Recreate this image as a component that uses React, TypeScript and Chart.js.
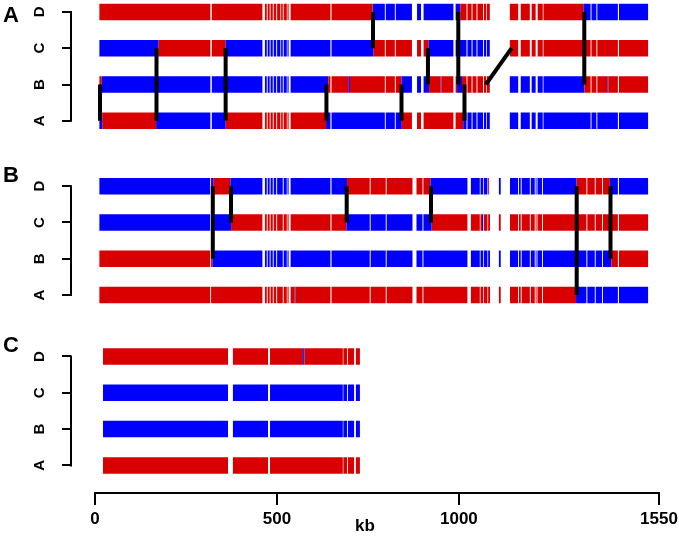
import React, { useEffect, useRef } from "react";
import { Chart, registerables } from "chart.js";
Chart.register(...registerables);

// ---------- data (kb) ----------
const X_TICKS = [0, 500, 1000, 1550];
const TRACKS = ["D", "C", "B", "A"];
const PANELS = ["A", "B", "C"];
// y row of track D for each panel (tracks D,C,B,A follow at +1 each)
const PANEL_ROW = [0, 4.8, 9.49];

// Panel A: breakpoints and colour of each run (R = red, B = blue, P = purple)
const A_D_BREAKS = [12, 763, 1004, 1342, 1520];
const A_D_COLORS = "RBRB";
const A_C_BREAKS = [12, 174, 359, 765, 916.5, 1112, 1520];
const A_C_COLORS = "BRBRBR";
const A_B_BREAKS = [12, 18.5, 641, 696, 700.5, 842, 918, 949.5, 952, 995, 1008.5, 1112, 1345, 1408, 1411, 1520];
const A_B_COLORS = "RBRBRBRBRBRBRBR";
const A_A_BREAKS = [12, 20, 168, 359, 635, 843, 1012, 1520];
const A_A_COLORS = "BRBRBRB";
const A_GAPS = [
  [317, 321], [460, 467], [472, 474.5], [480, 482.5], [488.5, 491], [498, 500.5], [509.5, 511.5],
  [516, 518.5], [527, 529], [532, 537.5], [647, 650], [796.5, 799], [824, 826.5], [871, 885],
  [896, 903], [985, 991], [1021, 1023.5], [1035, 1037.5], [1048.5, 1051], [1066.5, 1069],
  [1075, 1077], [1085, 1140], [1163, 1170], [1195, 1200], [1211, 1216.5], [1230.5, 1232.5],
  [1362, 1364.5], [1378, 1380.5], [1437, 1440],
];
// crossovers: [kb on upper track, upper track, kb on lower track, lower track]
const A_CROSS: [number, string, number, string][] = [
  [13.7, "B", 13.7, "A"], [169, "C", 169, "A"], [359, "C", 359, "A"], [636, "B", 636, "A"],
  [764, "D", 764, "C"], [842.3, "B", 842.3, "A"], [915, "C", 915, "B"], [998.4, "D", 998.4, "B"],
  [1015.4, "B", 1015.4, "A"], [1145, "C", 1074, "B"], [1344.7, "D", 1344.7, "B"],
];

// Panel B
const B_D_BREAKS = [12, 325, 372, 692.5, 922, 1080.5, 1083, 1323, 1415, 1520];
const B_D_COLORS = "BRBRBRBRB";
const B_C_BREAKS = [12, 374, 691, 925, 1063.5, 1066.5, 1520];
const B_C_COLORS = "BRBRBR";
const B_B_BREAKS = [12, 322.5, 1419.5, 1520];
const B_B_COLORS = "RBR";
const B_A_BREAKS = [12, 548.5, 551, 1322, 1520];
const B_A_COLORS = "RBRB";
const B_GAPS = [
  [316.5, 319], [460, 467], [472, 474.5], [480, 482.5], [488.5, 491], [498, 500.5], [516, 518.5],
  [527, 529], [532, 537.5], [647, 650], [755, 757.5], [799, 801.5], [872.5, 883.5], [900, 902.5],
  [1023.5, 1033], [1057.5, 1059.5], [1066.5, 1068.5], [1078.5, 1080.5], [1085.5, 1110],
  [1115, 1140.5], [1162.5, 1165], [1170, 1172.5], [1195, 1197.5], [1208.5, 1211], [1213.5, 1216],
  [1228.5, 1231], [1350.5, 1353], [1373.5, 1376], [1393.5, 1396], [1437, 1440],
];
const B_CROSS: [number, string, number, string][] = [
  [323.7, "D", 323.7, "B"], [373.8, "D", 373.8, "C"], [691.7, "D", 691.7, "C"],
  [923.4, "D", 923.4, "C"], [1323.8, "D", 1323.8, "A"], [1416.7, "D", 1416.7, "B"],
];

// Panel C
const C_D_BREAKS = [22, 569, 576, 728];
const C_D_COLORS = "RPR";
const C_C_BREAKS = [22, 728];
const C_C_COLORS = "B";
const C_B_BREAKS = [22, 728];
const C_B_COLORS = "B";
const C_A_BREAKS = [22, 728];
const C_A_COLORS = "R";
const C_GAPS = [[365.5, 379], [475.5, 481], [681, 682.5], [692.5, 695], [712, 717]];
const C_CROSS: [number, string, number, string][] = [];

// ---------- styles ----------
const COLORS: Record<string, string> = { R: "#d90000", B: "#0000ff", P: "#4b1fa8" };
const FONT = '"Liberation Sans", Arial, sans-serif';
const LETTER_DY = [10, -4.5, -4.5];

const PANEL_DATA = [
  { tracks: [[A_D_BREAKS, A_D_COLORS], [A_C_BREAKS, A_C_COLORS], [A_B_BREAKS, A_B_COLORS], [A_A_BREAKS, A_A_COLORS]], gaps: A_GAPS, cross: A_CROSS },
  { tracks: [[B_D_BREAKS, B_D_COLORS], [B_C_BREAKS, B_C_COLORS], [B_B_BREAKS, B_B_COLORS], [B_A_BREAKS, B_A_COLORS]], gaps: B_GAPS, cross: B_CROSS },
  { tracks: [[C_D_BREAKS, C_D_COLORS], [C_C_BREAKS, C_C_COLORS], [C_B_BREAKS, C_B_COLORS], [C_A_BREAKS, C_A_COLORS]], gaps: C_GAPS, cross: C_CROSS },
];

function subtract(s: number, e: number, gaps: number[][]) {
  const out: number[][] = [];
  let cur = s;
  for (const [g0, g1] of gaps) {
    if (g1 <= cur) continue;
    if (g0 >= e) break;
    if (g0 > cur) out.push([cur, Math.min(g0, e)]);
    cur = Math.max(cur, g1);
    if (cur >= e) break;
  }
  if (cur < e) out.push([cur, e]);
  return out;
}

function buildDatasets() {
  const ds: any[] = [];
  PANEL_DATA.forEach((panel, pi) => {
    const gaps = [...panel.gaps].sort((a, b) => a[0] - b[0]);
    panel.tracks.forEach(([breaks, colors]: any, ti: number) => {
      const yv = PANEL_ROW[pi] + ti;
      const byColor: Record<string, any[]> = {};
      for (let i = 0; i < colors.length; i++) {
        const c = colors[i];
        if (!byColor[c]) byColor[c] = [];
        for (const [a, b] of subtract(breaks[i], breaks[i + 1], gaps)) {
          byColor[c].push({ x: a, y: yv }, { x: b, y: yv }, { x: b, y: null });
        }
      }
      Object.keys(byColor).forEach((c) => {
        ds.push({
          type: "line",
          data: byColor[c],
          borderColor: COLORS[c],
          borderWidth: 16.5,
          borderCapStyle: "butt",
          pointRadius: 0,
          pointHoverRadius: 0,
          fill: false,
          spanGaps: false,
          tension: 0,
          order: 1,
        });
      });
    });
    panel.cross.forEach(([x1, t1, x2, t2]) => {
      ds.push({
        type: "line",
        data: [
          { x: x1, y: PANEL_ROW[pi] + TRACKS.indexOf(t1) },
          { x: x2, y: PANEL_ROW[pi] + TRACKS.indexOf(t2) },
        ],
        borderColor: "#000",
        borderWidth: 4,
        borderCapStyle: "butt",
        pointRadius: 0,
        pointHoverRadius: 0,
        fill: false,
        tension: 0,
        order: 0,
      });
    });
  });
  return ds;
}

const decorPlugin = {
  id: "decor",
  afterDraw(chart: any) {
    const { ctx, chartArea, scales } = chart;
    const x = scales.x, y = scales.y;
    ctx.save();
    ctx.strokeStyle = "#000";
    ctx.fillStyle = "#000";
    ctx.lineWidth = 2;
    ctx.lineCap = "butt";
    PANEL_ROW.forEach((r, i) => {
      const y0 = y.getPixelForValue(r);
      const y1 = y.getPixelForValue(r + 3);
      ctx.beginPath();
      ctx.moveTo(chartArea.left, y0 - 1);
      ctx.lineTo(chartArea.left, y1 + 1);
      ctx.stroke();
      ctx.font = `bold 22px ${FONT}`;
      ctx.textAlign = "left";
      ctx.textBaseline = "alphabetic";
      ctx.fillText(PANELS[i], 3, y0 + LETTER_DY[i]);
    });
    const by = chartArea.bottom;
    ctx.beginPath();
    ctx.moveTo(x.getPixelForValue(X_TICKS[0]) - 1, by);
    ctx.lineTo(x.getPixelForValue(X_TICKS[X_TICKS.length - 1]) + 1, by);
    ctx.stroke();
    ctx.restore();
  },
};

export default function App() {
  const ref = useRef<HTMLCanvasElement>(null);
  useEffect(() => {
    if (!ref.current) return;
    const yTicks: number[] = [];
    PANEL_ROW.forEach((r) => TRACKS.forEach((_, i) => yTicks.push(r + i)));
    const chart = new Chart(ref.current, {
      type: "line",
      data: { datasets: buildDatasets() },
      plugins: [decorPlugin],
      options: {
        responsive: false,
        animation: false,
        devicePixelRatio: 1,
        events: [],
        layout: { padding: { left: 0, top: 1, right: 20, bottom: 0 } },
        plugins: { legend: { display: false }, tooltip: { enabled: false }, title: { display: false } },
        scales: {
          x: {
            type: "linear",
            min: -66,
            max: 1550,
            afterBuildTicks: (s: any) => { s.ticks = X_TICKS.map((v) => ({ value: v })); },
            afterFit: (s: any) => { s.height = 44; s.paddingLeft = 0; s.paddingRight = 0; },
            ticks: {
              autoSkip: false,
              maxRotation: 0,
              padding: 4,
              color: "#000",
              font: { family: FONT, size: 17, weight: "bold" },
              callback: (v: any) => String(v),
            },
            grid: { drawOnChartArea: false, drawTicks: true, tickLength: 12, color: "#000", lineWidth: 2 },
            border: { display: false },
            title: {
              display: true,
              text: "kb",
              color: "#000",
              font: { family: FONT, size: 17, weight: "bold" },
              padding: { top: 0, bottom: 0 },
            },
          },
          y: {
            type: "linear",
            reverse: true,
            min: -0.3,
            max: 13.25,
            afterBuildTicks: (s: any) => { s.ticks = yTicks.map((v) => ({ value: v })); },
            afterFit: (s: any) => { s.width = 71; s.paddingTop = 0; s.paddingBottom = 0; },
            ticks: {
              autoSkip: false,
              minRotation: 90,
              maxRotation: 90,
              crossAlign: "center",
              padding: 17,
              color: "#000",
              font: { family: FONT, size: 15, weight: "bold" },
              callback: (_v: any, i: number) => TRACKS[i % 4],
            },
            grid: { drawOnChartArea: false, drawTicks: true, tickLength: 9, color: "#000", lineWidth: 2 },
            border: { display: false },
          },
        },
      } as any,
    });
    return () => chart.destroy();
  }, []);
  return (
    <div style={{ position: "absolute", left: 0, top: 0, width: 679, height: 537, background: "#fff" }}>
      <canvas ref={ref} width={679} height={537} style={{ display: "block" }} />
    </div>
  );
}
